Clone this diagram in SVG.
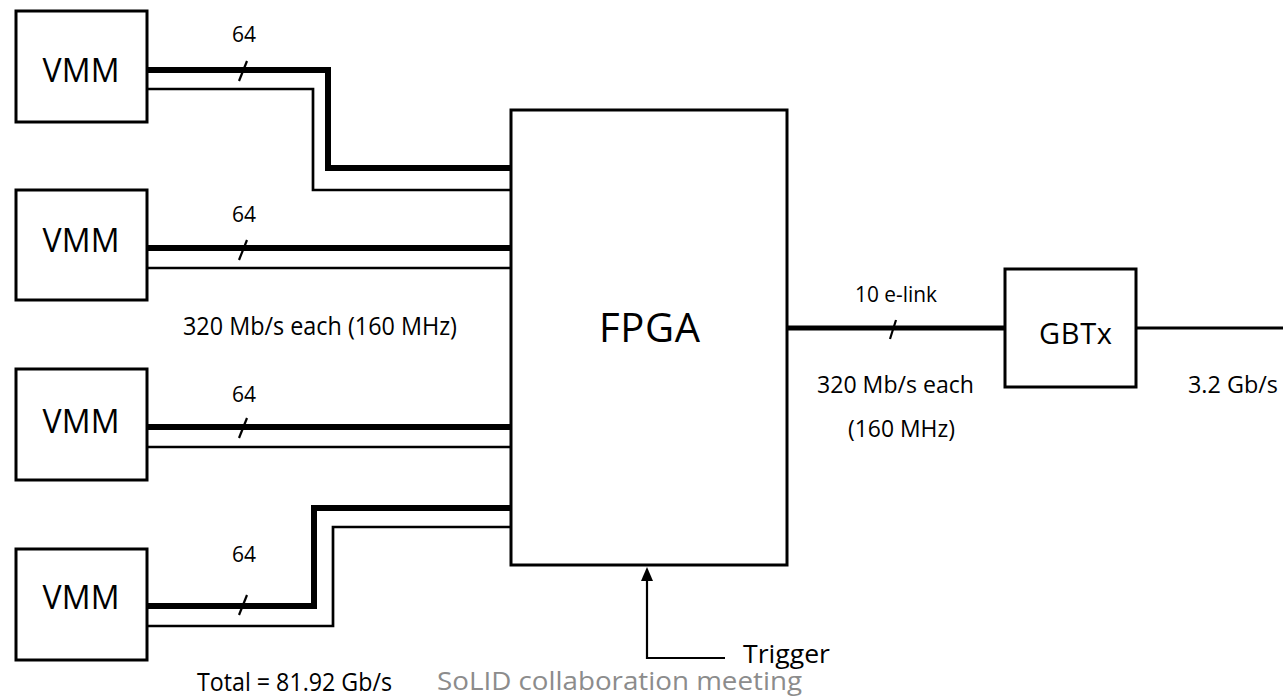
<svg xmlns="http://www.w3.org/2000/svg" width="1283" height="697" viewBox="0 0 1283 697">
  <defs>
    <style>
      .box { fill: #ffffff; stroke: #000000; stroke-width: 3; }
      .thick { fill: none; stroke: #000000; stroke-width: 6; stroke-linejoin: miter; }
      .thin { fill: none; stroke: #000000; stroke-width: 2.7; stroke-linejoin: miter; }
      .slash { stroke: #000000; stroke-width: 2.2; }
      .t { font-family: "Open Sans", "Liberation Sans", sans-serif; fill: #000000; }
      .gray { font-family: "Open Sans", "Liberation Sans", sans-serif; fill: #8c8c8c; }
    </style>
  </defs>
  <rect width="1283" height="697" fill="#ffffff"/>

  <g id="connectors">
    <!-- VMM1 -->
    <polyline class="thick" points="147,70 328,70 328,168 511,168"/>
    <polyline class="thin" points="147,89 313,89 313,190 511,190"/>
    <line class="slash" x1="247" y1="61" x2="239" y2="81"/>
    <!-- VMM2 -->
    <polyline class="thick" points="147,248 511,248"/>
    <polyline class="thin" points="147,268 511,268"/>
    <line class="slash" x1="247" y1="240" x2="239" y2="260"/>
    <!-- VMM3 -->
    <polyline class="thick" points="147,427 511,427"/>
    <polyline class="thin" points="147,447 511,447"/>
    <line class="slash" x1="247" y1="418" x2="239" y2="438"/>
    <!-- VMM4 -->
    <polyline class="thick" points="147,606 314,606 314,508 511,508"/>
    <polyline class="thin" points="147,626 333,626 333,527 511,527"/>
    <line class="slash" x1="247" y1="595" x2="239" y2="615"/>
    <!-- FPGA to GBTx -->
    <line x1="787" y1="328" x2="1005" y2="328" stroke="#000" stroke-width="5"/>
    <line class="slash" x1="896" y1="320" x2="890" y2="339"/>
    <!-- GBTx out -->
    <line x1="1136" y1="328" x2="1283" y2="328" stroke="#000" stroke-width="3"/>
    <!-- Trigger -->
    <polyline points="725,658 647,658 647,580" fill="none" stroke="#000" stroke-width="2.2"/>
    <polygon points="647,567 641,581 653,581" fill="#000"/>
  </g>

  <g id="vmm1">
    <rect class="box" x="16" y="11" width="131" height="111"/>
    <text class="t" x="81" y="82" font-size="32" text-anchor="middle" textLength="77">VMM</text>
  </g>
  <g id="vmm2">
    <rect class="box" x="16" y="190" width="131" height="110"/>
    <text class="t" x="81" y="252" font-size="32" text-anchor="middle" textLength="77">VMM</text>
  </g>
  <g id="vmm3">
    <rect class="box" x="16" y="369" width="131" height="111"/>
    <text class="t" x="81" y="433" font-size="32" text-anchor="middle" textLength="77">VMM</text>
  </g>
  <g id="vmm4">
    <rect class="box" x="16" y="549" width="131" height="111"/>
    <text class="t" x="81" y="609" font-size="32" text-anchor="middle" textLength="77">VMM</text>
  </g>
  <g id="fpga">
    <rect class="box" x="511" y="110" width="276" height="455"/>
    <text class="t" x="649.5" y="342" font-size="40" text-anchor="middle" textLength="101">FPGA</text>
  </g>
  <g id="gbtx">
    <rect class="box" x="1005" y="269" width="131" height="118"/>
    <text class="t" x="1075.5" y="344" font-size="29" text-anchor="middle" textLength="73">GBTx</text>
  </g>

  <g id="labels">
    <text class="t" x="244" y="42" font-size="21" text-anchor="middle" textLength="24">64</text>
    <text class="t" x="244" y="222" font-size="21" text-anchor="middle" textLength="24">64</text>
    <text class="t" x="244" y="402" font-size="21" text-anchor="middle" textLength="24">64</text>
    <text class="t" x="244" y="562" font-size="21" text-anchor="middle" textLength="24">64</text>
    <text class="t" x="183" y="335" font-size="26" textLength="274" lengthAdjust="spacingAndGlyphs">320 Mb/s each (160 MHz)</text>
    <text class="t" x="855" y="302" font-size="21" textLength="82" lengthAdjust="spacingAndGlyphs">10 e-link</text>
    <text class="t" x="817" y="393" font-size="24" textLength="157" lengthAdjust="spacingAndGlyphs">320 Mb/s each</text>
    <text class="t" x="848" y="437" font-size="24" textLength="107" lengthAdjust="spacingAndGlyphs">(160 MHz)</text>
    <text class="t" x="1188" y="393" font-size="24" textLength="90" lengthAdjust="spacingAndGlyphs">3.2 Gb/s</text>
    <text class="t" x="743" y="663" font-size="25" textLength="87" lengthAdjust="spacingAndGlyphs">Trigger</text>
    <text class="t" x="197" y="691" font-size="25" textLength="195" lengthAdjust="spacingAndGlyphs">Total = 81.92 Gb/s</text>
    <text class="gray" x="437" y="690" font-size="26" textLength="365" lengthAdjust="spacingAndGlyphs">SoLID collaboration meeting</text>
  </g>
</svg>
